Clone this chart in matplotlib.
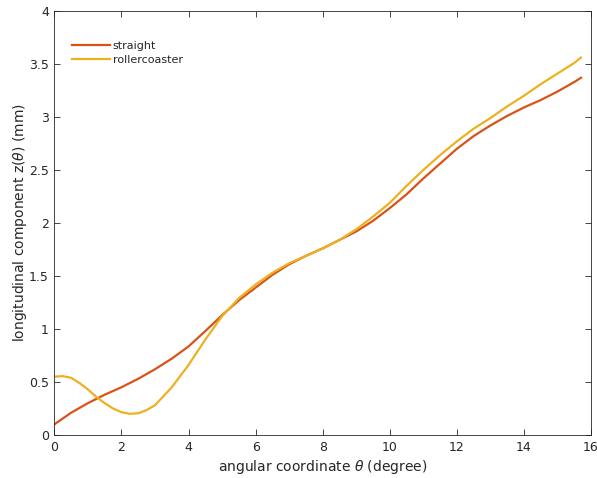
import matplotlib
matplotlib.use("Agg")
import matplotlib.pyplot as plt

theta_straight = [0, 0.5, 1.0, 1.5, 2.0, 2.5, 3.0, 3.5, 4.0, 4.5, 5.0, 5.5, 6.0, 6.5, 7.0, 7.5,
                  8.0, 8.5, 9.0, 9.5, 10.0, 10.5, 11.0, 11.5, 12.0, 12.5, 13.0, 13.5, 14.0,
                  14.5, 15.0, 15.5, 15.7]
z_straight = [0.10, 0.21, 0.30, 0.38, 0.45, 0.53, 0.62, 0.72, 0.835, 0.98, 1.13, 1.27, 1.39,
              1.51, 1.61, 1.69, 1.76, 1.84, 1.92, 2.02, 2.14, 2.27, 2.42, 2.56, 2.70, 2.82,
              2.92, 3.01, 3.09, 3.16, 3.24, 3.33, 3.37]

theta_roller = [0, 0.25, 0.5, 0.75, 1.0, 1.25, 1.5, 1.75, 2.0, 2.25, 2.5, 2.75, 3.0, 3.5, 4.0,
                4.5, 5.0, 5.5, 6.0, 6.5, 7.0, 7.5, 8.0, 8.5, 9.0, 9.5, 10.0, 10.5, 11.0, 11.5,
                12.0, 12.5, 13.0, 13.5, 14.0, 14.5, 15.0, 15.5, 15.7]
z_roller = [0.55, 0.555, 0.54, 0.49, 0.43, 0.36, 0.30, 0.25, 0.215, 0.20, 0.205, 0.235, 0.28,
            0.45, 0.66, 0.90, 1.12, 1.29, 1.42, 1.53, 1.62, 1.69, 1.76, 1.84, 1.94, 2.06, 2.19,
            2.35, 2.50, 2.64, 2.77, 2.89, 2.99, 3.10, 3.20, 3.31, 3.41, 3.51, 3.56]

labels = ["straight", "rollercoaster"]
xticks = [0, 2, 4, 6, 8, 10, 12, 14, 16]
yticks = [0, 0.5, 1, 1.5, 2, 2.5, 3, 3.5, 4]
ytick_labels = ["0", "0.5", "1", "1.5", "2", "2.5", "3", "3.5", "4"]

fig = plt.figure(figsize=(5.97, 4.78), dpi=100)
ax = fig.add_axes([0.091, 0.09, 0.899, 0.887])
dark = "#262626"
ax.plot(theta_straight, z_straight, color="#D95319", lw=1.6, label=labels[0])
ax.plot(theta_roller, z_roller, color="#EDB120", lw=1.6, label=labels[1])
ax.set_xlim(0, 16)
ax.set_ylim(0, 4)
ax.set_xticks(xticks)
ax.set_xticklabels([str(t) for t in xticks])
ax.set_yticks(yticks)
ax.set_yticklabels(ytick_labels)
ax.tick_params(direction="in", top=True, right=True, length=4, width=0.6, colors=dark,
               labelsize=9, pad=4)
for s in ax.spines.values():
    s.set_color(dark)
    s.set_linewidth(0.6)
ax.set_xlabel(r"angular coordinate $\theta$ (degree)", fontsize=10, color=dark, labelpad=3)
ax.set_ylabel(r"longitudinal component z($\theta$) (mm)", fontsize=10, color=dark, labelpad=0)
leg = ax.legend(loc="upper left", frameon=False, fontsize=8, handlelength=3.4,
                handletextpad=0.27, labelspacing=0.35, bbox_to_anchor=(0.014, 0.952))
for t in leg.get_texts():
    t.set_color(dark)
fig.savefig("out.png", dpi=100)
